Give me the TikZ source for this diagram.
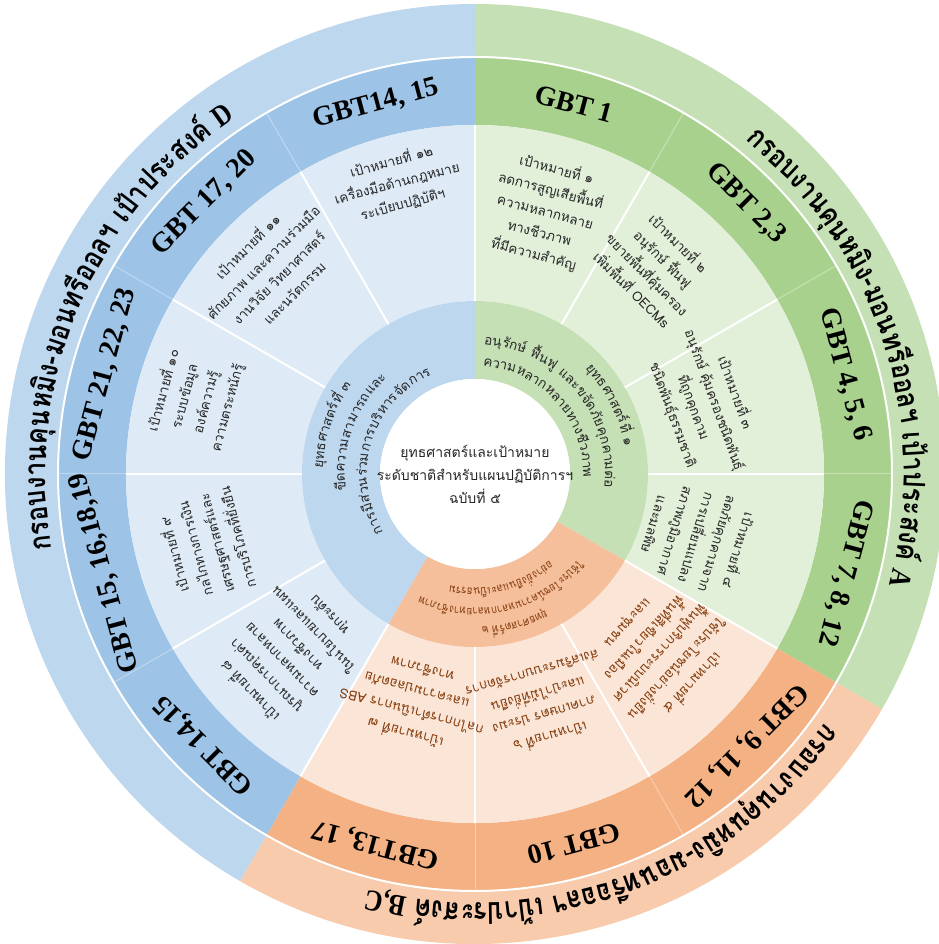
\documentclass[tikz,border=0pt]{standalone}
\usepackage{fontspec}
\setmainfont{Liberation Serif}
\newfontfamily\thaifont[Script=Thai]{Loma}

\definecolor{grnOuter}{HTML}{C5E0B4}
\definecolor{grnGbt}{HTML}{A9D18E}
\definecolor{grnGoal}{HTML}{E2F0D9}
\definecolor{grnCore}{HTML}{C5E0B4}
\definecolor{bluOuter}{HTML}{BDD7EE}
\definecolor{bluGbt}{HTML}{9DC3E6}
\definecolor{bluGoal}{HTML}{DEEBF7}
\definecolor{bluCore}{HTML}{BDD7EE}
\definecolor{orgOuter}{HTML}{F8CBAD}
\definecolor{orgGbt}{HTML}{F4B183}
\definecolor{orgGoal}{HTML}{FBE5D6}
\definecolor{orgCore}{HTML}{F6BF9B}
\definecolor{brownTxt}{HTML}{843C0C}

\newcommand\ringfont{\thaifont\bfseries\fontsize{30}{32}\selectfont}
\newcommand\corefont{\thaifont\fontsize{13.5}{16}\selectfont\color{black!85}}
\newcommand\corebrown{\thaifont\fontsize{11.5}{14}\selectfont\color{brownTxt}}

% annular sector: colour, inner r, outer r, from angle, to angle
\newcommand\sector[5]{%
  \fill[#1] (#4:#2pt) arc[start angle=#4, end angle=#5, radius=#2pt]
    -- (#5:#3pt) arc[start angle=#5, end angle=#4, radius=#3pt] -- cycle;}

% width of a piece, measured with an empty node of the same font
\newcommand\piecewidth[3]{% font, piece, name
  \node[font=#1, inner sep=0pt] (#3) at (0,0) {\phantom{#2}};
  \pgfpointdiff{\pgfpointanchor{#3}{west}}{\pgfpointanchor{#3}{east}}%
  \pgfgetlastxy{\piecewd}{\piecedp}}

% text set clockwise along an arc: font, radius, mid angle, pieces, name, squeeze
\newcommand\arcline[6]{%
  \gdef\arcsum{0}%
  \foreach \piece in {#4}{%
    \piecewidth{#1}{\piece}{#5-m}%
    \pgfmathsetmacro\tmpsum{\arcsum+#6*\piecewd}%
    \xdef\arcsum{\tmpsum}}%
  \pgfmathsetmacro\tmpang{#3+\arcsum/#2*90/pi}%
  \xdef\arcang{\tmpang}%
  \foreach \piece [count=\k] in {#4}{%
    \piecewidth{#1}{\piece}{#5-m}%
    \pgfmathsetmacro\midang{\arcang-#6*\piecewd/#2*90/pi}%
    \node[font=#1, anchor=base, inner sep=0pt, rotate=\midang-90, xscale=#6] (#5-\k) at (\midang:#2pt) {\piece};
    \pgfmathsetmacro\tmpang{\arcang-#6*\piecewd/#2*180/pi}%
    \xdef\arcang{\tmpang}}%
}

\tikzset{
  gbtlabel/.style={font=\bfseries\fontsize{28}{30}\selectfont, inner sep=0pt},
  goaltext/.style={font=\thaifont\fontsize{13.5}{22}\selectfont, align=center, text=black!85, inner sep=0pt},
  orgtext/.style={goaltext, text=brownTxt},
  sepline/.style={white, line width=2pt},
}

\begin{document}
\begin{tikzpicture}
  \useasboundingbox (-475pt,-470pt) rectangle (463pt,474pt);
  % rings of the three strategies
  \foreach \cA/\cB/\cC/\cD/\from/\to in {grnOuter/grnGbt/grnGoal/grnCore/-30/90,
      orgOuter/orgGbt/orgGoal/orgCore/-120/-30, bluOuter/bluGbt/bluGoal/bluCore/90/240}{
    \sector{\cA}{417}{470}{\from}{\to}
    \sector{\cB}{349}{417}{\from}{\to}
    \sector{\cC}{173}{349}{\from}{\to}
    \sector{\cD}{95}{173}{\from}{\to}
  }
  \fill[white] (0,0) circle[radius=95pt];
  \draw[sepline] (0,0) circle[radius=417pt];
  \foreach \a in {90,60,...,-240}
    \draw[sepline] (\a:173pt) -- (\a:349pt);
  \foreach \a in {60,30,0,-60,-90,-150,180,150,120}
    \draw[white, opacity=.35, line width=1pt] (\a:349pt) -- (\a:417pt);

  % centre
  \node[goaltext, font=\thaifont\fontsize{14}{23}\selectfont] (core) at (0,0)
    {ยุทธศาสตร์และเป้าหมาย\\ระดับชาติสำหรับแผนปฏิบัติการฯ\\ฉบับที่ ๕};

  % outer ring
  \arcline{\ringfont}{429}{18}{กรอบ,งาน,คุน,หมิง-,มอน,ทรี,ออลฯ,~เป้า,ประ,สงค์,{~\rmfamily A}}{frameA}{.84}
  \arcline{\ringfont}{429}{-70}{กรอบ,งาน,คุน,หมิง-,มอน,ทรี,ออลฯ,~เป้า,ประ,สงค์,{~\rmfamily B,C}}{frameBC}{.84}
  \arcline{\ringfont}{429}{157}{กรอบ,งาน,คุน,หมิง-,มอน,ทรี,ออลฯ,~เป้า,ประ,สงค์,{~\rmfamily D}}{frameD}{.84}

  % GBT ring
  \node[gbtlabel, rotate=-15]  (gbt1)  at (75:383pt)  {GBT 1};
  \node[gbtlabel, rotate=-45]  (gbt2)  at (45:383pt)  {GBT 2,3};
  \node[gbtlabel, rotate=-75]  (gbt3)  at (15:383pt)  {GBT 4, 5, 6};
  \node[gbtlabel, rotate=-105] (gbt4)  at (-15:383pt) {GBT 7, 8, 12};
  \node[gbtlabel, rotate=-135] (gbt5)  at (-45:383pt) {GBT 9, 11, 12};
  \node[gbtlabel, rotate=-165] (gbt6)  at (-75:383pt) {GBT 10};
  \node[gbtlabel, rotate=-195] (gbt7)  at (-105:383pt) {GBT13, 17};
  \node[gbtlabel, rotate=-225] (gbt8)  at (-135:383pt) {GBT 14,15};
  \node[gbtlabel, rotate=-255] (gbt9)  at (-165:383pt) {GBT 15, 16,18,19};
  \node[gbtlabel, rotate=75]   (gbt10) at (165:383pt) {GBT 21, 22, 23};
  \node[gbtlabel, rotate=45]   (gbt11) at (135:383pt) {GBT 17, 20};
  \node[gbtlabel, rotate=15]   (gbt12) at (105:383pt) {GBT14, 15};

  % goals
  \node[goaltext, rotate=-15] (goal1) at (75:272pt)
    {เป้าหมายที่ ๑\\ลดการสูญเสียพื้นที่\\ความหลากหลาย\\ทางชีวภาพ\\ที่มีความสำคัญ};
  \node[goaltext, rotate=-45] (goal2) at (49:276pt)
    {เป้าหมายที่ ๒\\อนุรักษ์ ฟื้นฟู\\ขยายพื้นที่คุ้มครอง\\เพิ่มพื้นที่ OECMs};
  \node[goaltext, rotate=-70] (goal3) at (17:240pt)
    {เป้าหมายที่ ๓\\อนุรักษ์ คุ้มครองชนิดพันธุ์\\ที่ถูกคุกคาม\\ชนิดพันธุ์ธรรมชาติ};
  \node[goaltext, rotate=-107] (goal4) at (-16:232pt)
    {เป้าหมายที่ ๔\\ลดภัยคุกคามจาก\\การเปลี่ยนแปลง\\สภาพภูมิอากาศ\\และมลพิษ};
  \node[orgtext, rotate=-133] (goal5) at (-44:258pt)
    {เป้าหมายที่ ๕\\ใช้ประโยชน์อย่างยั่งยืน\\ฟื้นฟูบริการระบบนิเวศ\\พื้นที่สีเขียวในเมือง\\และชุมชน};
  \node[orgtext, rotate=-164] (goal6) at (-74:242pt)
    {เป้าหมายที่ ๖\\ภาคเกษตร ประมง\\และป่าไม้ที่ยั่งยืน\\ส่งเสริมระบบการจัดการ};
  \node[orgtext, rotate=-195] (goal7) at (-105:237pt)
    {เป้าหมายที่ ๗\\กลไกการดำเนินการ ABS\\และความปลอดภัย\\ทางชีวภาพ};
  \node[goaltext, rotate=-226] (goal8) at (-136:258pt)
    {เป้าหมายที่ ๘\\บูรณาการคุณค่า\\ความหลากหลาย\\ทางชีวภาพ\\ในนโยบายและแผน\\ทุกระดับ};
  \node[goaltext, rotate=-255] (goal9) at (-165:280pt)
    {เป้าหมายที่ ๙\\กลไกทางการเงิน\\เศรษฐศาสตร์และ\\การบริโภคที่ยั่งยืน};
  \node[goaltext, rotate=75] (goal10) at (165:290pt)
    {เป้าหมายที่ ๑๐\\ระบบข้อมูล\\องค์ความรู้\\ความตระหนักรู้};
  \node[goaltext, rotate=45] (goal11) at (135:290pt)
    {เป้าหมายที่ ๑๑\\ศักยภาพ และความร่วมมือ\\งานวิจัย วิทยาศาสตร์\\และนวัตกรรม};
  \node[goaltext, rotate=15] (goal12) at (105:302pt)
    {เป้าหมายที่ ๑๒\\เครื่องมือด้านกฎหมาย\\ระเบียบปฏิบัติฯ};

  % strategies
  \arcline{\corefont}{152}{27}{ยุทธ,ศาสตร์,ที่~๑}{strat1a}{1}
  \arcline{\corefont}{130}{40}{อนุ,รักษ์,~ฟื้น,ฟู,~และ,ขจัด,ภัย,คุก,คาม,ต่อ}{strat1b}{1}
  \arcline{\corefont}{108}{42}{ความ,หลาก,หลาย,ทาง,ชีว,ภาพ}{strat1c}{1}
  \arcline{\corebrown}{153}{-75}{ยุทธ,ศาสตร์,ที่~๒}{strat2a}{.88}
  \arcline{\corebrown}{134}{-77}{ใช้,ประ,โยชน์,ความ,หลาก,หลาย,ทาง,ชีว,ภาพ}{strat2b}{.85}
  \arcline{\corebrown}{114}{-76}{อย่าง,ยั่ง,ยืน,และ,เป็น,ธรรม}{strat2c}{.88}
  \arcline{\corefont}{152}{161}{ยุทธ,ศาสตร์,ที่~๓}{strat3a}{1}
  \arcline{\corefont}{130}{160}{ขีด,ความ,สา,มารถ,และ}{strat3b}{1}
  \arcline{\corefont}{108}{163}{การ,มี,ส่วน,ร่วม,การ,บริ,หาร,จัด,การ}{strat3c}{1}
\end{tikzpicture}
\end{document}
